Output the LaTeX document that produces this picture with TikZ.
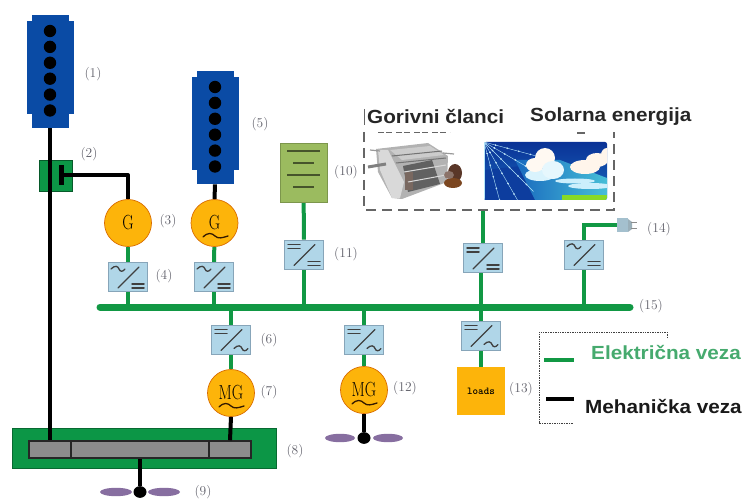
\documentclass[tikz,border=0pt]{standalone}
\usepackage{fontspec}
\newfontfamily\lib{Liberation Sans}
\usetikzlibrary{calc,backgrounds}
\definecolor{busgreen}{RGB}{17,152,68}
\definecolor{boxgreen}{RGB}{12,150,70}
\definecolor{tankblue}{RGB}{10,75,165}
\definecolor{convblue}{RGB}{176,214,232}
\definecolor{convedge}{RGB}{135,165,185}
\definecolor{genorange}{RGB}{253,180,10}
\definecolor{battgreen}{RGB}{155,187,95}
\definecolor{propviolet}{RGB}{135,110,160}
\definecolor{labgray}{RGB}{95,95,105}
\definecolor{leggreen}{RGB}{70,170,110}
\definecolor{deepsky}{RGB}{10,50,150}
\definecolor{midsky}{RGB}{25,105,190}
\definecolor{streak}{RGB}{70,190,215}
\definecolor{rust}{RGB}{90,55,40}
\tikzset{
  x=1pt,y=-1pt,
  elec/.style={draw=busgreen,line width=4pt},
  mech/.style={draw=black,line width=4pt},
  conv/.style={draw=convedge,fill=convblue,line width=.7pt,minimum width=39pt,minimum height=29pt,inner sep=0pt},
  gen/.style={circle,draw=orange!85!black,fill=genorange,line width=.7pt,minimum size=47pt,inner sep=0pt,font=\fontsize{17}{17}\selectfont},
  lab/.style={text=labgray,inner sep=0pt,font=\fontsize{13.5}{13.5}\selectfont},
  head/.style={inner sep=0pt,text=black!85,font=\lib\bfseries\fontsize{19}{19}\selectfont,xscale=1.09},
  glyph/.style={line width=1.3pt,draw=black!75,line cap=round},
  thin dash/.style={draw=black!60,line width=1.3pt,dash pattern=on 10pt off 6pt},
  legdot/.style={draw=black!75,line width=.7pt,dash pattern=on 1pt off .7pt},
  prop/.style={fill=propviolet,draw=none},
}
\newcommand{\tall}[1]{\scalebox{.92}[1.2]{#1}}
\newcommand{\eqsym}[2]{\draw[glyph,line width=1.5pt] (#1-6,#2-2)--(#1+6,#2-2) (#1-6,#2+2)--(#1+6,#2+2);}
\newcommand{\acsym}[2]{\draw[glyph] (#1-7,#2) .. controls (#1-3,#2-4) and (#1,#2-3) .. (#1+1,#2) .. controls (#1+2,#2+3) and (#1+5,#2+3) .. (#1+7,#2);}
% converter: name, centre x, centre y, top-left symbol, bottom-right symbol
\newcommand{\convbox}[5]{%
  \node[conv] (#1) at (#2,#3) {};
  \draw[glyph] (#2-10,#3+11) -- (#2+11,#3-10);
  #4{#2-10}{#3-8}
  #5{#2+10}{#3+9}
}
% wave under a machine letter, centred on x, y
\newcommand{\wave}[2]{\draw[glyph,draw=black!80!orange] (#1-12,#2+1) .. controls (#1-7,#2-4) and (#1-3,#2-3) .. (#1,#2) .. controls (#1+3,#2+3) and (#1+7,#2+2) .. (#1+13,#2);}
% tank: name, centre x, top y
\newcommand{\tank}[3]{%
  \fill[tankblue] (#2-23.5,#3+6) rectangle (#2+23.5,#3+99);
  \node[fill=tankblue,minimum width=37pt,minimum height=113pt,inner sep=0pt,anchor=north] (#1) at (#2,#3) {};
  \foreach \k in {0,...,5}{\fill[black] (#2,#3+16+15.9*\k) circle (6.2);}
}
% propeller: hub name, x, y, blade length, inner gap
\newcommand{\propeller}[5]{%
  \node[circle,fill=black,minimum size=13pt,inner sep=0pt,yscale=.9] (#1) at (#2,#3) {};
  \fill[prop] (#2-#5-#4/2,#3) ellipse ({#4/2} and 4.2);
  \fill[prop] (#2+#5+#4/2,#3) ellipse ({#4/2} and 4.2);
}
\begin{document}
\begin{tikzpicture}
\useasboundingbox (0,0) rectangle (748,500);
% --- gearbox
\node[fill=boxgreen,draw=boxgreen!70!black,minimum width=264pt,minimum height=40pt,inner sep=0pt] (gearbox) at (144,448) {};
\node[fill=black!45,draw=black!85,line width=1.5pt,minimum width=42pt,minimum height=17pt,inner sep=0pt] (gearL) at (50,449.5) {};
\node[fill=black!45,draw=black!85,line width=1.5pt,minimum width=138pt,minimum height=17pt,inner sep=0pt] (gearM) at (140,449.5) {};
\node[fill=black!45,draw=black!85,line width=1.5pt,minimum width=42pt,minimum height=17pt,inner sep=0pt] (gearR) at (230,449.5) {};
% --- tanks
\tank{tankA}{50}{15}
\tank{tankB}{215}{71}
% --- splitter
\node[fill=boxgreen,draw=boxgreen!60!black,line width=.6pt,minimum width=33pt,minimum height=31pt,inner sep=0pt] (split) at (55.5,175.5) {};
\node[fill=black,minimum width=5pt,minimum height=20pt,inner sep=0pt] (splitbar) at (61,175) {};
\draw[mech] (tankA.south) -- (gearL.north);
% --- machines
\node[gen] (genA) at (128,223) {\tall{G}};
\node[gen] (genB) at (214.5,223) {\tall{G}};
\wave{215}{236}
\node[gen] (mgA) at (231,393) {\tall{MG}};
\wave{231}{406}
\node[gen] (mgB) at (364,390) {\tall{MG}};
\wave{364}{403}
\draw[mech,line join=round] (splitbar.east) -| (genA.north);
\draw[mech] (tankB.south) -- (genB.north);
\draw[mech] (mgA.south) -- (gearR.north);
% --- converters
\convbox{convA}{128}{277}{\acsym}{\eqsym}
\convbox{convB}{214}{277}{\acsym}{\eqsym}
\convbox{convC}{231}{339.5}{\eqsym}{\acsym}
\convbox{convD}{364}{339.5}{\eqsym}{\acsym}
\convbox{convE}{304}{254.5}{\eqsym}{\eqsym}
\convbox{convF}{483}{258}{\eqsym}{\eqsym}
\convbox{convG}{584}{254.5}{\acsym}{\eqsym}
\convbox{convH}{481}{335.5}{\eqsym}{\acsym}
% --- battery
\node[fill=battgreen,draw=battgreen!80!black,minimum width=47pt,minimum height=59pt,inner sep=0pt] (batt) at (303.5,172.5) {};
\draw[line width=1.1pt,draw=black!55!battgreen] (287,151)--(320,151) (293,163)--(314,163) (287,175)--(320,175) (293,187)--(314,187);
% --- solar picture
\begin{scope}
\clip[rounded corners=2pt] (484,142) rectangle (607,200);
\shade[top color=deepsky,bottom color=midsky] (484,142) rectangle (607,200);
\fill[deepsky!80!midsky] (484,170) -- (530,165) -- (545,200) -- (484,200) -- cycle;
\shade[left color=midsky,right color=streak] (515,160) -- (560,160) -- (607,178) -- (607,200) -- (535,200) -- cycle;
\foreach \a in {0,...,5}{\foreach \r in {1,...,5}{\fill[white!85!cyan] ({484+\r*12*cos(15+\a*15)},{142+\r*12*sin(15+\a*15)}) circle (.9);}}
\foreach \a in {0,...,5}{\draw[white!70!cyan,line width=.4pt] (484,142) -- ({484+70*cos(15+\a*15)},{142+70*sin(15+\a*15)});}
\fill[white!85!cyan] (540,175) ellipse (15 and 6);
\fill[white!95!orange] (545,158) ellipse (10 and 10);
\fill[white!95!orange] (535,165) ellipse (9 and 7);
\fill[white!90!cyan] (553,170) ellipse (11 and 9);
\fill[white!92!orange] (585,167) ellipse (15 and 7);
\fill[white!92!orange] (597,160) ellipse (11 and 7);
\fill[white!92!orange] (607,155) ellipse (6 and 7);
\fill[white!80!cyan] (590,186) ellipse (22 and 3);
\fill[white!80!cyan] (575,181) ellipse (20 and 2.5);
\fill[green!45!yellow!70!gray] (562,195) rectangle (607,200);
\end{scope}
% --- fuel-cell picture
\fill[black!30] (376,149) -- (428,143) -- (448,156) -- (447,182) -- (402,199) -- (392,198) -- (378,172) -- cycle;
\fill[black!15] (378,150) -- (388,150) -- (404,182) -- (400,198) -- (392,198) -- (380,170) -- cycle;
\fill[black!62] (403,166) -- (432,160) -- (440,184) -- (408,192) -- cycle;
\fill[rust!70!black!70] (405,172) rectangle (413,190);
\fill[black!20] (390,150) -- (430,146) -- (444,155) -- (402,160) -- cycle;
\draw[black!55,line width=1pt] (392,156)--(442,151) (396,163)--(446,158);
\draw[black!15,line width=1pt] (404,172)--(446,165) (408,182)--(446,175);
\draw[black!50,line width=3pt] (368,167) -- (386,164);
\draw[black!40,line width=1.2pt] (370,150)--(380,151) (443,153)--(454,154);
\fill[rust] (455,173) ellipse (7 and 9);
\fill[rust!80!orange] (453,183) ellipse (9 and 5);
\fill[rust!70!white] (449,175) ellipse (5 and 4);
% --- dashed frame
\coordinate (frameTL) at (364,132);
\coordinate (frameBL) at (364,210);
\coordinate (frameBR) at (614,210);
\coordinate (frameTR) at (614,132);
\coordinate (frameF) at (483,210);
\draw[thin dash] (frameTL) -- (frameBL) -- (frameBR) -- (frameTR);
\draw[thin dash,line width=1pt,dash pattern=on 6pt off 2pt on 6pt off 4pt] (378,133) -- (450,133);
\draw[thin dash] (577,133) -- (585,133);
\draw[black!60,line width=.8pt] (364,109) -- (364,125);
% --- plug
\node[fill=convblue!75!gray,minimum width=11pt,minimum height=14pt,inner sep=0pt] (plug) at (622.5,225.5) {};
\fill[convblue!55!gray] (628,219) -- (632,222) -- (632,229) -- (628,232) -- cycle;
\draw[black!45,line width=1.2pt] (631,222.5) -- (637,222.5) (631,228.5) -- (637,228.5);
% --- loads
\node[fill=genorange,minimum width=48pt,minimum height=48pt,inner sep=0pt,font=\ttfamily\bfseries\fontsize{10.5}{10.5}\selectfont] (loads) at (481,391) {loads};
% --- propellers
\propeller{hubA}{140}{492}{32}{8}
\propeller{hubB}{364}{438}{30}{9}
\draw[mech] (gearM.south) -- (hubA.north);
\draw[mech] (mgB.south) -- (hubB.north);
% --- bus and electric connectors, under everything
\begin{pgfonlayer}{background}
\coordinate (busL) at (100,307);
\coordinate (busR) at (630,307);
\foreach \n/\x in {jA/128,jB/214,jC/231,jD/364,jE/304,jF/481,jG/584}{\coordinate (\n) at (\x,307);}
\draw[draw=busgreen,line width=7pt,line cap=round] (busL) -- (busR);
\draw[elec] (genA) -- (convA);
\draw[elec] (genB) -- (convB);
\draw[elec] (convA) -- (jA);
\draw[elec] (convB) -- (jB);
\draw[elec] (batt) -- (convE);
\draw[elec] (convE) -- (jE);
\draw[elec] (frameF) -- (convF);
\draw[elec] (jF) -- (jF|-convF.south);
\draw[elec] (convG) -- (jG);
\draw[elec,line join=miter] (convG.center) |- (plug.west);
\draw[elec] (jC) -- (convC);
\draw[elec] (convC) -- (mgA);
\draw[elec] (jD) -- (convD);
\draw[elec] (convD) -- (mgB);
\draw[elec] (jF) -- (convH);
\draw[elec] (convH) -- (loads);
\end{pgfonlayer}
% --- legend
\coordinate (legA) at (667,338);
\coordinate (legB) at (573,423);
\draw[legdot] (legA) -- (667,332) -- (539,332) -- (539,423) -- (legB);
\coordinate (elA) at (544,360); \coordinate (elB) at (574,360);
\coordinate (meA) at (546,399); \coordinate (meB) at (574,399);
\draw[elec] (elA) -- (elB);
\draw[mech] (meA) -- (meB);
% --- texts
\node[head,anchor=west] (tGor) at (367,117) {Gorivni članci};
\node[head,anchor=west] (tSol) at (530,117) {Solarna energija};
\node[head,anchor=west,text=leggreen] (tEl) at (591,352) {Električna veza};
\node[head,anchor=west,text=black!90] (tMe) at (585,406) {Mehanička veza};
\foreach \n/\x/\y/\t in {l1/93/74/{(1)},l2/89/154/{(2)},l3/168/221/{(3)},l4/164/276/{(4)},l5/260/124/{(5)},l6/269/340/{(6)},l7/269/392/{(7)},l8/295/451/{(8)},l9/203/492/{(9)},l10/346/172/{(10)},l11/346/254/{(11)},l12/405/388/{(12)},l13/521/389/{(13)},l14/659/229/{(14)},l15/651/306/{(15)}}{\node[lab] (\n) at (\x,\y) {\t};}
\end{tikzpicture}
\end{document}
